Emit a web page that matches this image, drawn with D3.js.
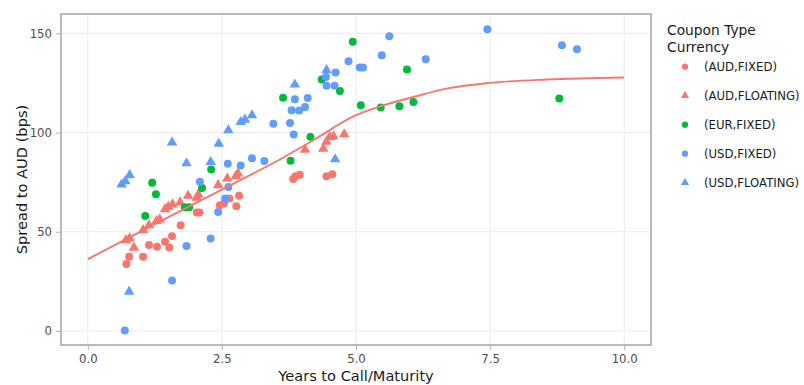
<!DOCTYPE html>
<html>
<head>
<meta charset="utf-8">
<script src="https://cdn.jsdelivr.net/npm/d3@7"></script>
<style>
  html, body { margin: 0; padding: 0; background: #fff; }
  svg { display: block; font-family: "DejaVu Sans", Verdana, sans-serif; }
</style>
</head>
<body>
<svg id="chart" width="804" height="385"></svg>
<script>
// ─── Data ───────────────────────────────────────────────────

const xTicks = [0, 2.5, 5, 7.5, 10];
const yTicks = [0, 50, 100, 150];

// [years to call/maturity, spread bps]
const audFixed = [
  [0.72, 33.7], [0.77, 37.4], [1.03, 37.4], [1.14, 43.3], [1.29, 42.4],
  [1.44, 45.0], [1.52, 42.1], [1.57, 47.8], [1.73, 53.3], [2.03, 59.7],
  [2.08, 59.7], [2.46, 63.4], [2.54, 64.3], [2.64, 66.8], [2.77, 62.9],
  [2.82, 68.1], [3.83, 76.6], [3.87, 78.0], [3.95, 78.7], [4.45, 78.0],
  [4.56, 79.0]
];

const audFloating = [
  [0.71, 45.8], [0.78, 46.7], [0.86, 42.0], [1.03, 50.8], [1.14, 53.3],
  [1.28, 55.4], [1.34, 56.2], [1.44, 61.4], [1.50, 62.6], [1.58, 63.8],
  [1.72, 64.8], [1.87, 68.1], [2.03, 67.1], [2.06, 68.8], [2.43, 73.5],
  [2.60, 76.8], [2.76, 78.0], [2.80, 79.4], [4.05, 91.3], [4.39, 91.8],
  [4.45, 95.3], [4.51, 97.8], [4.58, 98.1], [4.78, 99.1]
];

const eurFixed = [
  [1.07, 58.0], [1.20, 74.7], [1.27, 68.9], [1.81, 62.3], [1.89, 62.3],
  [2.13, 72.1], [2.30, 81.4], [3.64, 117.5], [3.78, 85.8], [4.15, 97.8],
  [4.36, 126.7], [4.70, 120.9], [4.94, 145.7], [5.09, 113.7], [5.46, 112.6],
  [5.81, 113.2], [5.95, 131.8], [6.07, 115.4], [8.79, 117.1]
];

const usdFixed = [
  [0.69, 0.3], [1.57, 25.4], [1.84, 42.8], [2.29, 46.6], [2.43, 59.9],
  [2.56, 66.8], [2.62, 72.6], [2.09, 75.2], [2.61, 84.3], [2.85, 83.4],
  [3.06, 87.0], [3.29, 85.7], [3.46, 104.4], [3.77, 104.8], [3.84, 99.0],
  [3.80, 111.2], [3.94, 111.1], [3.86, 116.7], [4.05, 112.9], [4.10, 117.4],
  [4.44, 128.0], [4.45, 123.5], [4.60, 123.5], [4.62, 130.2], [4.86, 135.9],
  [5.07, 132.7], [5.13, 132.7], [5.48, 138.9], [5.62, 148.5], [6.30, 136.9],
  [7.45, 152.0], [8.84, 143.9], [9.12, 141.9]
];

const usdFloating = [
  [0.63, 73.8], [0.70, 75.5], [0.78, 78.5], [0.77, 19.8], [1.57, 95.0],
  [1.84, 84.5], [2.29, 85.1], [2.44, 94.3], [2.62, 101.1], [2.85, 105.3],
  [2.93, 106.5], [3.06, 108.7], [3.86, 124.2], [4.45, 131.4], [4.61, 86.5]
];

// smooth fit line
const fitLine = [
  [0, 36.2], [1, 50.3], [2, 64.3], [2.84, 76.0], [3.58, 86.4], [4.2, 96.1],
  [5.0, 108.7], [5.45, 113.2], [6.07, 117.9], [6.69, 122.1], [7.5, 125.0],
  [8.56, 126.7], [10, 127.7]
];

const series = [
  { label: "(AUD,FIXED)", color: "#F8766D", shape: "circle", data: audFixed },
  { label: "(AUD,FLOATING)", color: "#F8766D", shape: "triangle", data: audFloating },
  { label: "(EUR,FIXED)", color: "#00BA38", shape: "circle", data: eurFixed },
  { label: "(USD,FIXED)", color: "#619CFF", shape: "circle", data: usdFixed },
  { label: "(USD,FLOATING)", color: "#619CFF", shape: "triangle", data: usdFloating }
];

// ─── Layout ─────────────────────────────────────────────────

const plot = { left: 61, right: 651, top: 14, bottom: 345 };

const svg = d3.select("#chart");

const x = d3.scaleLinear().domain([-0.5, 10.5]).range([plot.left, plot.right]);
const y = d3.scaleLinear().domain([-7.05, 159.7]).range([plot.bottom, plot.top]);

// Grid
const grid = svg.append("g").attr("stroke", "#ebebeb").attr("stroke-width", 1);
grid.selectAll("line.gx")
  .data(xTicks)
  .enter()
  .append("line")
  .attr("x1", (d) => x(d)).attr("x2", (d) => x(d))
  .attr("y1", plot.top).attr("y2", plot.bottom);
grid.selectAll("line.gy")
  .data(yTicks)
  .enter()
  .append("line")
  .attr("y1", (d) => y(d)).attr("y2", (d) => y(d))
  .attr("x1", plot.left).attr("x2", plot.right);

// Axes
const xAxis = svg.append("g")
  .attr("transform", `translate(0,${plot.bottom})`)
  .call(d3.axisBottom(x).tickValues(xTicks).tickFormat(d3.format(".1f")).tickSize(5).tickPadding(5));
const yAxis = svg.append("g")
  .attr("transform", `translate(${plot.left},0)`)
  .call(d3.axisLeft(y).tickValues(yTicks).tickSize(5).tickPadding(4));

[xAxis, yAxis].forEach((ax) => {
  ax.select(".domain").remove();
  ax.selectAll(".tick line").attr("stroke", "#b3b3b3");
  ax.selectAll(".tick text")
    .attr("fill", "#4d4d4d")
    .style("font-size", "11.7px")
    .style("font-family", "'DejaVu Sans', Verdana, sans-serif");
});

// Panel border
svg.append("rect")
  .attr("x", plot.left).attr("y", plot.top)
  .attr("width", plot.right - plot.left)
  .attr("height", plot.bottom - plot.top)
  .attr("fill", "none")
  .attr("stroke", "#b3b3b3")
  .attr("stroke-width", 1.8);

// Points
const symbolOf = (shape, size) =>
  d3.symbol().type(shape === "triangle" ? d3.symbolTriangle : d3.symbolCircle).size(size);

series.forEach((s) => {
  svg.append("g")
    .selectAll("path")
    .data(s.data)
    .enter()
    .append("path")
    .attr("transform", (d) => `translate(${x(d[0])},${y(d[1])})`)
    .attr("d", symbolOf(s.shape, s.shape === "triangle" ? 48 : 50)())
    .attr("fill", s.color);
});

// Fit line
const line = d3.line()
  .x((d) => x(d[0]))
  .y((d) => y(d[1]))
  .curve(d3.curveMonotoneX);

svg.append("path")
  .datum(fitLine)
  .attr("d", line)
  .attr("fill", "none")
  .attr("stroke", "#F8766D")
  .attr("stroke-width", 1.9);

// Axis titles
svg.append("text")
  .attr("x", (plot.left + plot.right) / 2)
  .attr("y", 381)
  .attr("text-anchor", "middle")
  .attr("fill", "#1a1a1a")
  .style("font-size", "14.6px")
  .text("Years to Call/Maturity");

svg.append("text")
  .attr("transform", `translate(27,${(plot.top + plot.bottom) / 2}) rotate(-90)`)
  .attr("text-anchor", "middle")
  .attr("fill", "#1a1a1a")
  .style("font-size", "14.6px")
  .text("Spread to AUD (bps)");

// ─── Legend ─────────────────────────────────────────────────

const legend = svg.append("g");
legend.append("text")
  .attr("x", 667).attr("y", 35)
  .attr("fill", "#1a1a1a")
  .style("font-size", "13.8px")
  .text("Coupon Type");
legend.append("text")
  .attr("x", 667).attr("y", 52)
  .attr("fill", "#1a1a1a")
  .style("font-size", "13.8px")
  .text("Currency");

series.forEach((s, i) => {
  const cy = 66.7 + i * 29;
  legend.append("path")
    .attr("transform", `translate(685,${cy})`)
    .attr("d", symbolOf(s.shape, 30)())
    .attr("fill", s.color);
  legend.append("text")
    .attr("x", 704).attr("y", cy + 4)
    .attr("fill", "#1a1a1a")
    .style("font-size", "11.7px")
    .text(s.label);
});
</script>
</body>
</html>
